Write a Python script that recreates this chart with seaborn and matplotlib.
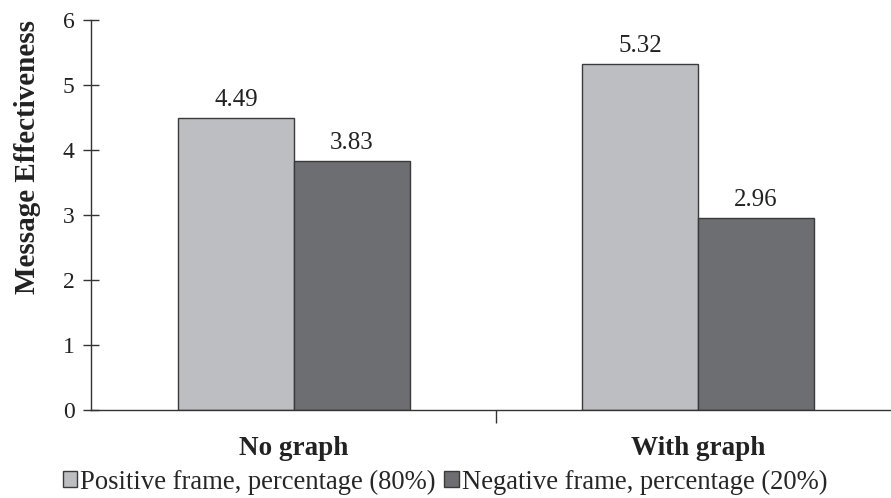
import matplotlib
matplotlib.use("Agg")
import matplotlib.pyplot as plt
from matplotlib.patches import Patch
import seaborn as sns
import pandas as pd

conditions = ["No graph", "With graph"]
frames = ["Positive frame, percentage (80%)", "Negative frame, percentage (20%)"]
positive_values = [4.49, 5.32]
negative_values = [3.83, 2.96]
frame_colors = ["#bdbec2", "#6d6e72"]
y_ticks = [0, 1, 2, 3, 4, 5, 6]

df = pd.DataFrame({
    "condition": conditions * 2,
    "frame": [frames[0]] * 2 + [frames[1]] * 2,
    "score": positive_values + negative_values,
})

sns.set_style("white")
plt.rcParams["font.family"] = ["Liberation Serif", "DejaVu Serif"]

fig = plt.figure(figsize=(8.91, 4.98), dpi=100)
ax = fig.add_axes([91 / 891, 1 - 410 / 498, 1 - 91 / 891, (410 - 20) / 498])

sns.barplot(data=df, x="condition", y="score", hue="frame", order=conditions,
            hue_order=frames, palette=frame_colors, width=0.574, gap=0,
            edgecolor="#3a3a3a", linewidth=1.0, saturation=1, legend=False, ax=ax)

for container in ax.containers:
    ax.bar_label(container, fmt="%.2f", padding=5, fontsize=18, color="#222222")

ax.set_ylim(0, 6)
ax.set_xlim(-0.502, 1.478)
ax.set_yticks(y_ticks)
ax.set_yticklabels([str(t) for t in y_ticks], fontsize=17, color="#222222")
ax.tick_params(axis="y", direction="inout", length=11.5, width=1, color="#333333", pad=6, left=True)

# boundary tick between groups, category names as untick'd minor labels
ax.set_xticks([0.5])
ax.set_xticklabels([""])
ax.tick_params(axis="x", which="major", direction="out", length=9, width=1, color="#333333", bottom=True)
ax.set_xticks([0, 1], minor=True)
ax.set_xticklabels(conditions, minor=True, fontsize=19.5, fontweight="bold", color="#222222")
ax.tick_params(axis="x", which="minor", length=0, pad=19)
ax.set_xlabel("")

ax.set_ylabel("Message Effectiveness", fontsize=21, fontweight="bold", color="#222222")
ax.yaxis.set_label_coords(-0.062, 0.649)

for side in ["top", "right"]:
    ax.spines[side].set_visible(False)
for side in ["left", "bottom"]:
    ax.spines[side].set_color("#333333")
    ax.spines[side].set_linewidth(1.0)

handles = [Patch(facecolor=c, edgecolor="#3a3a3a", linewidth=1.0) for c in frame_colors]
fig.legend(handles, frames, loc="center", bbox_to_anchor=(445 / 891, 1 - 482 / 498),
           ncol=2, frameon=False, fontsize=19.2, handlelength=0.55, handleheight=0.55,
           handletextpad=0.12, columnspacing=0.3, borderpad=0)

fig.savefig("out.png", dpi=100)
